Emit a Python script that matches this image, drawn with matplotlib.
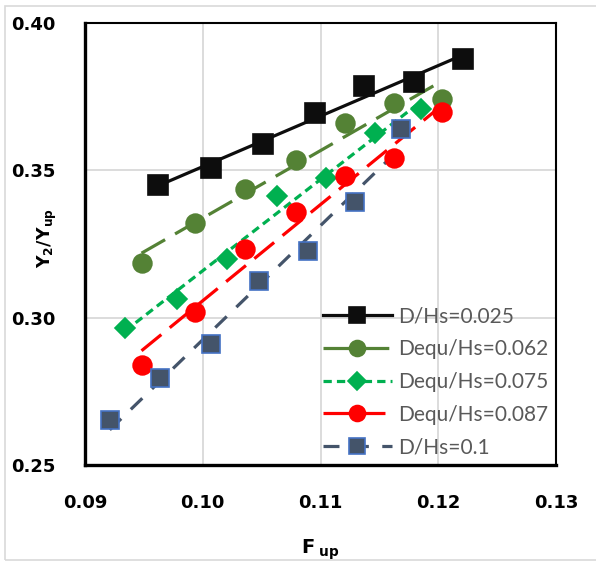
import matplotlib.pyplot as plt
import numpy as np
from matplotlib.lines import Line2D
from matplotlib.patches import Rectangle

# data
f_025 = [0.0962, 0.1007, 0.1051, 0.1095, 0.1137, 0.1179, 0.1221]
y_025 = [0.3449, 0.3509, 0.3588, 0.3695, 0.3787, 0.3800, 0.3878]

f_062 = [0.0948, 0.0993, 0.1036, 0.1079, 0.1121, 0.1162, 0.1203]
y_062 = [0.3185, 0.3320, 0.3436, 0.3534, 0.3661, 0.3729, 0.3742]

f_075 = [0.0934, 0.0978, 0.1021, 0.1063, 0.1105, 0.1146, 0.1185]
y_075 = [0.2966, 0.3064, 0.3199, 0.3413, 0.3475, 0.3627, 0.3709]

f_087 = [0.0948, 0.0993, 0.1036, 0.1079, 0.1121, 0.1162, 0.1203]
y_087 = [0.2839, 0.3019, 0.3233, 0.3359, 0.3481, 0.3543, 0.3697]

f_100 = [0.0921, 0.0964, 0.1007, 0.1048, 0.1089, 0.1129, 0.1168]
y_100 = [0.2653, 0.2794, 0.2909, 0.3126, 0.3225, 0.3393, 0.3639]

labels = ["D/Hs=0.025", "Dequ/Hs=0.062", "Dequ/Hs=0.075", "Dequ/Hs=0.087", "D/Hs=0.1"]

xticks = [0.09, 0.10, 0.11, 0.12, 0.13]
yticks = [0.25, 0.30, 0.35, 0.40]

series = [
    # x, y, color, marker, ms, edge, dashes
    (f_025, y_025, "#0D0D0D", "s", 14, "#0D0D0D", None),
    (f_062, y_062, "#548235", "o", 13.5, "#548235", (8.5, 3.6)),
    (f_075, y_075, "#00B050", "D", 10.5, "#00B050", (2.6, 1.6)),
    (f_087, y_087, "#FF0000", "o", 13.5, "#FF0000", (8.0, 3.4)),
    (f_100, y_100, "#44546A", "s", 13.5, "#4472C4", (5.0, 4.2)),
]

fig = plt.figure(figsize=(5.96, 5.66), dpi=100)
ax = fig.add_axes([85 / 596, 1 - 465 / 566, 471 / 596, 442 / 566])

# light outer chart border
fig.patches.append(Rectangle((5 / 596, 6 / 566), 1.2, 1 - 12 / 566, transform=fig.transFigure,
                             fill=False, edgecolor="#D9D9D9", lw=1.2))

lw = 2.3
handles = []
for x, y, c, m, ms, ec, dash in series:
    x = np.array(x)
    y = np.array(y)
    # linear trendline through the points (as in the spreadsheet chart)
    k, b = np.polyfit(x, y, 1)
    xs = np.array([x.min(), x.max()])
    ln, = ax.plot(xs, k * xs + b, color=c, lw=lw, zorder=3, solid_capstyle="butt",
                  dash_capstyle="butt")
    if dash is not None:
        ln.set_dashes(dash)
    ax.plot(x, y, ls="none", marker=m, ms=ms, color=c, mec=ec, mew=1.2, zorder=4)
    h = Line2D([], [], color=c, lw=lw, marker=m, ms=ms * 0.85, mec=ec, mew=1.2,
               dash_capstyle="butt")
    if dash is not None:
        h.set_dashes(dash)
    handles.append(h)

ax.set_xlim(0.09, 0.13)
ax.set_ylim(0.25, 0.40)
ax.set_xticks(xticks)
ax.set_yticks(yticks)
ax.set_xticklabels([f"{v:.2f}" for v in xticks], fontsize=13, fontweight="bold")
ax.set_yticklabels([f"{v:.2f}" for v in yticks], fontsize=13, fontweight="bold")
ax.tick_params(length=0)
ax.tick_params(axis="x", pad=21)
ax.tick_params(axis="y", pad=21)
ax.grid(True, color="#D9D9D9", lw=1.3)
ax.set_axisbelow(True)

for s in ["left", "bottom"]:
    ax.spines[s].set_linewidth(2.4)
for s in ["top", "right"]:
    ax.spines[s].set_linewidth(1.5)
for s in ax.spines.values():
    s.set_color("black")

fig.text(47 / 596, 1 - 238 / 566, r"$\mathbf{Y_2/Y_{up}}$", rotation=90,
         ha="center", va="center", fontsize=12.5)
fig.text(320 / 596, 1 - 550 / 566, r"$\mathbf{F_{\ up}}$", ha="center", va="center",
         fontsize=14)

leg = ax.legend(handles, labels, loc="lower left", bbox_to_anchor=(0.49, 0.0),
                frameon=False, handlelength=3.3, handletextpad=0.3,
                labelspacing=0.62, borderpad=0, borderaxespad=0.35,
                prop={"family": "Lato", "size": 15})
for t in leg.get_texts():
    t.set_color("#595959")

fig.savefig("out.png", dpi=100)
